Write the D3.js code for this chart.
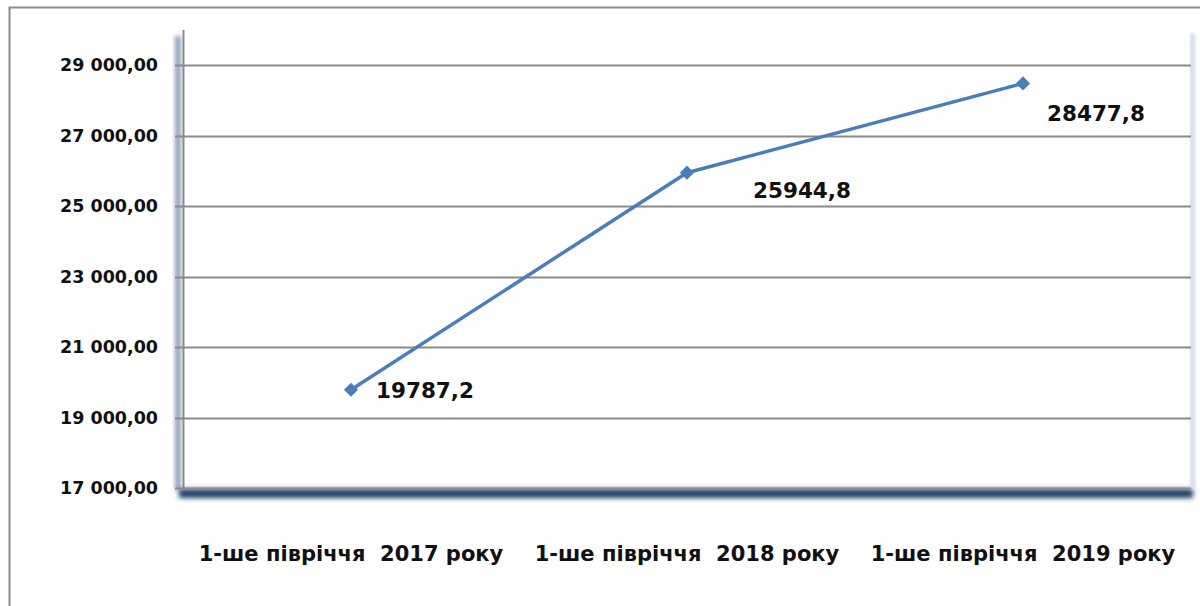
<!DOCTYPE html>
<html>
<head>
<meta charset="utf-8">
<script src="https://cdn.jsdelivr.net/npm/d3@7"></script>
<style>
  html, body { margin: 0; padding: 0; background: #fff; }
  svg text { font-family: "DejaVu Sans", sans-serif; font-weight: bold; fill: #111; }
</style>
</head>
<body>
<div id="chart"></div>
<script>
// chart data
const categories = ['1-ше півріччя  2017 року', '1-ше півріччя  2018 року', '1-ше півріччя  2019 року']
const values = [19787.2, 25944.8, 28477.8]
const valueLabels = ['19787,2', '25944,8', '28477,8']
const yTicks = [17000, 19000, 21000, 23000, 25000, 27000, 29000]

const width = 1200
const height = 606
const plot = { left: 183, right: 1191, top: 30, bottom: 488 }

const svg = d3.select('#chart')
  .append('svg')
  .attr('width', width)
  .attr('height', height)

const defs = svg.append('defs')
defs.append('filter').attr('id', 'blur4')
  .attr('x', '-20%').attr('y', '-50%').attr('width', '140%').attr('height', '200%')
  .append('feGaussianBlur').attr('stdDeviation', 2.5)
defs.append('filter').attr('id', 'blur2')
  .attr('x', '-50%').attr('y', '-5%').attr('width', '200%').attr('height', '110%')
  .append('feGaussianBlur').attr('stdDeviation', 2)

// outer frame (only top and left visible in the picture)
svg.append('path')
  .attr('d', `M9.5,${height} V7.5 H${width}`)
  .attr('fill', 'none')
  .attr('stroke', '#8c8c8c')
  .attr('stroke-width', 2)

const x = d3.scaleBand()
  .domain(categories)
  .range([plot.left, plot.right])

const y = d3.scaleLinear()
  .domain([17000, 30000])
  .range([plot.bottom, plot.bottom - 13000 / 2000 * 70.5])

// wall / floor shadows (3D look)
svg.append('rect')
  .attr('x', plot.left - 8).attr('y', plot.top + 6)
  .attr('width', 6).attr('height', plot.bottom - plot.top - 4)
  .attr('fill', '#8ea2bf')
  .attr('filter', 'url(#blur2)')
svg.append('rect')
  .attr('x', plot.left - 4).attr('y', plot.bottom + 1)
  .attr('width', plot.right - plot.left + 6).attr('height', 9)
  .attr('fill', '#1f3c68')
  .attr('filter', 'url(#blur4)')
svg.append('rect')
  .attr('x', plot.right).attr('y', plot.top + 4)
  .attr('width', 4).attr('height', plot.bottom - plot.top - 4)
  .attr('fill', '#c9d3e3')
  .attr('filter', 'url(#blur2)')
svg.append('line')
  .attr('x1', plot.right + 1).attr('x2', plot.right + 1)
  .attr('y1', plot.top + 3).attr('y2', plot.bottom)
  .attr('stroke', '#d7deea').attr('stroke-width', 1.5)

// gridlines
svg.append('g')
  .selectAll('line')
  .data(yTicks)
  .join('line')
  .attr('x1', plot.left - 8)
  .attr('x2', plot.right)
  .attr('y1', d => Math.round(y(d)) + 0.5)
  .attr('y2', d => Math.round(y(d)) + 0.5)
  .attr('stroke', '#8a8a8a')
  .attr('stroke-width', 2)

// y axis
const yAxis = svg.append('g')
  .attr('transform', `translate(${plot.left},0)`)
  .call(d3.axisLeft(y)
    .tickValues(yTicks)
    .tickSize(0)
    .tickPadding(25)
    .tickFormat(d => d3.format(',.2f')(d).replace(/,/g, ' ').replace('.', ',')))
yAxis.select('.domain').remove()
yAxis.selectAll('text')
  .attr('font-size', 17.5)
  .attr('font-family', '"DejaVu Sans", sans-serif')
  .attr('font-weight', 'bold')
  .attr('fill', '#111')
svg.append('line')
  .attr('x1', plot.left + 0.5).attr('x2', plot.left + 0.5)
  .attr('y1', plot.top).attr('y2', plot.bottom + 2)
  .attr('stroke', '#8a8a8a')
  .attr('stroke-width', 2)

// x axis labels
svg.append('g')
  .selectAll('text')
  .data(categories)
  .join('text')
  .attr('x', d => x(d) + x.bandwidth() / 2)
  .attr('y', 561)
  .attr('text-anchor', 'middle')
  .attr('font-size', 21)
  .style('white-space', 'pre')
  .text(d => d)

// line series
const points = categories.map((c, i) => ({ c, v: values[i], label: valueLabels[i] }))
const line = d3.line()
  .x(d => x(d.c) + x.bandwidth() / 2)
  .y(d => y(d.v))

svg.append('path')
  .datum(points)
  .attr('d', line)
  .attr('fill', 'none')
  .attr('stroke', '#4a7ebb')
  .attr('stroke-width', 3.5)

svg.append('g')
  .selectAll('path')
  .data(points)
  .join('path')
  .attr('transform', d => `translate(${x(d.c) + x.bandwidth() / 2},${y(d.v)}) rotate(45)`)
  .attr('d', d3.symbol(d3.symbolSquare, 100))
  .attr('fill', '#4a7ebb')

// value labels
const labelOffsets = [[25, 8], [66, 25], [24, 38]]
svg.append('g')
  .selectAll('text')
  .data(points)
  .join('text')
  .attr('x', (d, i) => x(d.c) + x.bandwidth() / 2 + labelOffsets[i][0])
  .attr('y', (d, i) => y(d.v) + labelOffsets[i][1])
  .attr('font-size', 21.5)
  .text(d => d.label)
</script>
</body>
</html>
